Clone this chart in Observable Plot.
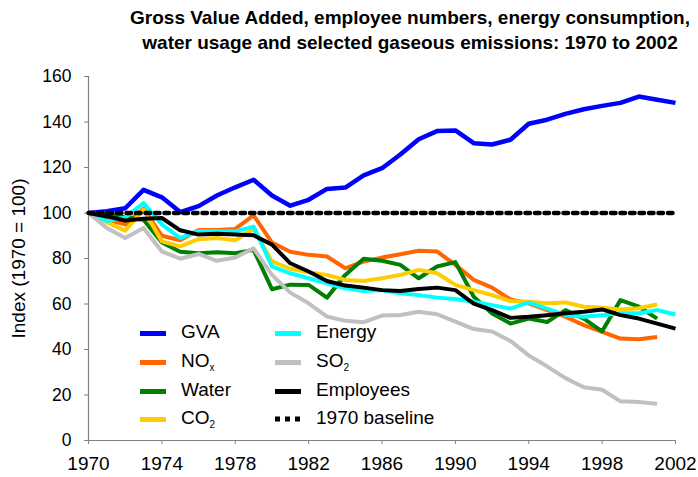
<!DOCTYPE html>
<html>
<head>
<meta charset="utf-8">
<script src="https://cdn.jsdelivr.net/npm/d3@7"></script>
<script src="https://cdn.jsdelivr.net/npm/@observablehq/plot@0.6"></script>
<style>
  html, body { margin: 0; padding: 0; background: #fff; }
  body { font-family: "Liberation Sans", Arial, sans-serif; }
  #wrap { position: relative; width: 698px; height: 477px; overflow: hidden; }
  #title { position: absolute; left: 110px; width: 600px; top: 5px; text-align: center;
           font-weight: bold; font-size: 19px; line-height: 25px; color: #000; }
  #legend { position: absolute; left: 0; top: 0; width: 698px; height: 477px; pointer-events: none; }
  .item { position: absolute; font-size: 19px; color: #000; line-height: 20px; white-space: nowrap; }
  .sw { position: absolute; height: 5px; width: 26px; }
  sub { font-size: 10px; vertical-align: -4px; line-height: 0; }
</style>
</head>
<body>
<div id="wrap">
  <div id="chart"></div>
  <div id="title">Gross Value Added, employee numbers, energy consumption,<br>water usage and selected gaseous emissions: 1970 to 2002</div>
  <div id="legend"></div>
</div>
<script>
// ---- data (index, 1970 = 100) ----
const years = d3.range(1970, 2003);
const gva = [100, 100.8, 102.1, 110.2, 106.9, 100.4, 103, 107.7, 111.3, 114.6, 107.7, 103.2, 105.8, 110.6, 111.2, 116.5, 119.7, 125.7, 132.4, 136, 136.3, 130.7, 130.1, 132.2, 139.2, 141, 143.6, 145.6, 147.1, 148.4, 151.2, 149.8, 148.4];
const nox = [100, 97, 95, 102, 90, 88, 92.5, 92.5, 93, 99, 87, 83, 81.6, 80.9, 75.7, 78.7, 80.4, 81.9, 83.4, 83.1, 77.2, 70.6, 67.2, 62, 60.3, 57.3, 54.4, 50.7, 47.7, 44.8, 44.5, 45.5];
const water = [100, 100, 98, 97, 87, 83, 82.3, 82.8, 82.3, 83.8, 66.5, 68.5, 68.4, 62.8, 72.8, 79.9, 79, 77.2, 71.3, 76.5, 78.4, 63.2, 55.8, 51.4, 53.6, 52.1, 57.3, 53.6, 48, 61.7, 58.8, 53.6];
const co2 = [100, 96, 92.2, 101.5, 87.5, 85.3, 88.5, 89, 88, 93, 78.7, 75.5, 73.9, 72.8, 70.6, 70.1, 71.3, 72.8, 75, 73.5, 68.4, 66.1, 63.9, 61.3, 61, 60.3, 60.7, 58.8, 58.4, 57.6, 58.1, 59.8];
const energy = [100, 96.5, 98, 104.4, 95, 89, 92, 92, 91.9, 94, 76.5, 73.5, 71.3, 69.1, 66.9, 65.7, 66.1, 64.7, 63.9, 62.8, 62.2, 61, 59.5, 58, 60.7, 58, 55.1, 54.4, 55.1, 55.9, 55.9, 57.3, 55.4];
const so2 = [100, 93.4, 89, 93.4, 83.1, 79.9, 82, 79, 80.4, 84.5, 72.8, 65, 60.3, 54.5, 52.6, 52, 54.9, 55.2, 56.6, 55.5, 52.3, 49, 47.9, 43.8, 37.4, 32.6, 27.4, 23.4, 22.3, 17.2, 16.9, 16.1];
const employees = [100, 98.5, 96.7, 97.5, 97.8, 92.4, 90.5, 90.9, 90.5, 90.2, 86.1, 77.9, 74.3, 70.1, 68.1, 67.2, 66.1, 65.7, 66.6, 67.2, 66.1, 60.2, 57.3, 53.9, 54.4, 55.1, 55.9, 56.6, 57.6, 55.1, 53.6, 51.4, 49.2];
const baselineYears = [1970, 2002];
const baselineValue = 100;
const xTicks = d3.range(1970, 2003, 4);
const yTicks = d3.range(0, 161, 20);
const yLabel = "Index (1970 = 100)";

const seriesNames = ["GVA", "NOx", "Water", "CO2", "Energy", "SO2", "Employees"];
const seriesValues = [gva, nox, water, co2, energy, so2, employees];
const seriesColors = ["#0000FF", "#FF6600", "#008000", "#FFCC00", "#00FFFF", "#C0C0C0", "#000000"];
const legendLabels = ["GVA", "NO<sub>x</sub>", "Water", "CO<sub>2</sub>", "Energy", "SO<sub>2</sub>", "Employees", "1970 baseline"];

const toRows = (vals) => vals.map((v, i) => ({year: years[i], value: v}));

const lineMarks = seriesValues.map((vals, i) =>
  Plot.line(toRows(vals), {x: "year", y: "value", stroke: seriesColors[i],
    strokeWidth: i === 0 ? 4.5 : 4, strokeLinejoin: "round", strokeLinecap: "butt"}));

const chart = Plot.plot({
  width: 698,
  height: 477,
  marginTop: 76,
  marginBottom: 37,
  marginLeft: 88,
  marginRight: 23,
  style: {fontFamily: '"Liberation Sans", Arial, sans-serif', background: "#fff", color: "#000"},
  x: {domain: [1970, 2002]},
  y: {domain: [0, 160]},
  marks: [
    Plot.axisY({ticks: yTicks, tickSize: 4, tickPadding: 13, fontSize: 17.5, label: null, stroke: "#808080"}),
    Plot.axisX({ticks: xTicks, tickFormat: d => String(d), tickSize: 4, tickPadding: 12, fontSize: 19, label: null, stroke: "#808080"}),
    Plot.ruleY([0], {stroke: "#808080", strokeWidth: 1.2}),
    Plot.ruleX([1970], {stroke: "#808080", strokeWidth: 1.2}),
    Plot.text([yLabel], {frameAnchor: "left", textAnchor: "middle", rotate: -90, dx: -70, fontSize: 19, fill: "#000"}),
    ...lineMarks,
    Plot.line(baselineYears.map(y => ({year: y, value: baselineValue})), {x: "year", y: "value",
      stroke: "#000", strokeWidth: 4.5, strokeDasharray: "4.5,5"})
  ]
});
document.getElementById("chart").appendChild(chart);

// ---- legend (HTML overlay) ----
const legend = document.getElementById("legend");
const rowsY = [333, 362, 391, 419];
const colSwX = [140, 275];
const colTxX = [181, 316];
legendLabels.forEach((lab, i) => {
  const col = i < 4 ? 0 : 1, row = i % 4;
  const cy = rowsY[row];
  if (i < 7) {
    const sw = document.createElement("div");
    sw.className = "sw";
    sw.style.left = colSwX[col] + "px";
    sw.style.top = (cy - 2.5) + "px";
    sw.style.background = seriesColors[i];
    legend.appendChild(sw);
  } else {
    const svgNS = "http://www.w3.org/2000/svg";
    const s = document.createElementNS(svgNS, "svg");
    s.setAttribute("width", 26); s.setAttribute("height", 6);
    s.style.position = "absolute"; s.style.left = colSwX[col] + "px"; s.style.top = (cy - 3) + "px";
    const l = document.createElementNS(svgNS, "line");
    l.setAttribute("x1", 0); l.setAttribute("x2", 26); l.setAttribute("y1", 3); l.setAttribute("y2", 3);
    l.setAttribute("stroke", "#000"); l.setAttribute("stroke-width", 5); l.setAttribute("stroke-dasharray", "5,5");
    s.appendChild(l);
    legend.appendChild(s);
  }
  const t = document.createElement("div");
  t.className = "item";
  t.style.left = colTxX[col] + "px";
  t.style.top = (cy - 11) + "px";
  t.innerHTML = lab;
  legend.appendChild(t);
});
</script>
</body>
</html>
